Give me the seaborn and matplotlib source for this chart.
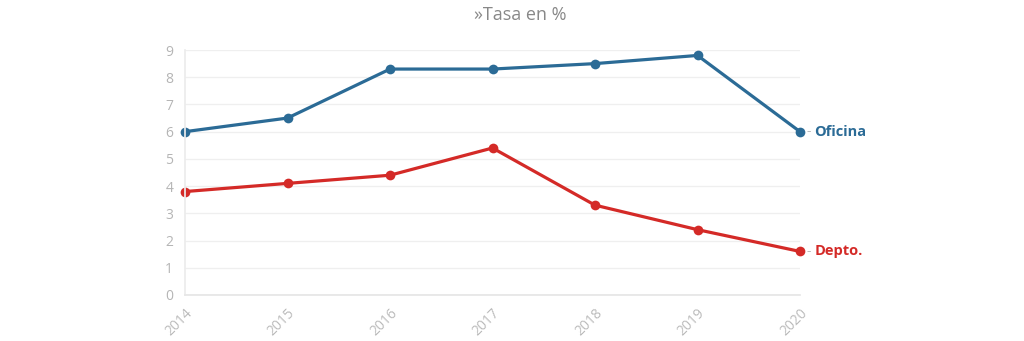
import matplotlib
matplotlib.use("Agg")
import matplotlib.pyplot as plt
import seaborn as sns
import pandas as pd

years = [2014, 2015, 2016, 2017, 2018, 2019, 2020]
oficina = [6.0, 6.5, 8.3, 8.3, 8.5, 8.8, 6.0]
depto = [3.8, 4.1, 4.4, 5.4, 3.3, 2.4, 1.6]
series_names = ["Oficina", "Depto."]
colors = {"Oficina": "#2b6b96", "Depto.": "#d42a27"}
title = "»Tasa en %"

sns.set_theme(style="white")
plt.rcParams['font.family'] = ['Open Sans', 'DejaVu Sans']

df = pd.DataFrame({
    "year": years * 2,
    "value": oficina + depto,
    "serie": [series_names[0]] * len(years) + [series_names[1]] * len(years),
})

fig = plt.figure(figsize=(10.24, 3.41), dpi=100)
ax = fig.add_axes([185 / 1024, 1 - 295 / 341, (800 - 185) / 1024, (295 - 50) / 341])

sns.lineplot(data=df, x="year", y="value", hue="serie", palette=colors,
             marker="o", markersize=7, markeredgewidth=0, linewidth=2.3,
             legend=False, ax=ax, clip_on=False)

ax.set_xlim(2014, 2020)
ax.set_ylim(0, 9)
ax.set_yticks(range(0, 10))
ax.set_xticks(years)
ax.set_xticklabels([str(y) for y in years], rotation=45, ha="right",
                   rotation_mode="anchor")
ax.tick_params(axis="x", length=4, width=0.8, colors="#e6e6e6", labelcolor="#bbbbbb", labelsize=10)
ax.tick_params(axis="y", length=5, width=0.8, colors="#eeeeee", labelcolor="#b5b5b5", labelsize=10)
ax.grid(axis="y", color="#efefef", linewidth=0.9)
ax.set_axisbelow(True)
for s in ["top", "right"]:
    ax.spines[s].set_visible(False)
ax.spines["left"].set_color("#ececec")
ax.spines["bottom"].set_color("#e6e6e6")
ax.set_xlabel("")
ax.set_ylabel("")

for name, vals in zip(series_names, [oficina, depto]):
    ax.annotate("-", xy=(years[-1], vals[-1]), xytext=(5, 0),
                textcoords="offset points", va="center", ha="left",
                color="#bbbbbb", fontsize=10)
    ax.annotate(name, xy=(years[-1], vals[-1]), xytext=(10.5, 0),
                textcoords="offset points", va="center", ha="left",
                color=colors[name], fontsize=10.5, fontweight="bold")

fig.text(0.508, 0.955, title, ha="center", va="center", fontsize=13, color="#888888")

fig.savefig("out.png", dpi=100, facecolor="white")
